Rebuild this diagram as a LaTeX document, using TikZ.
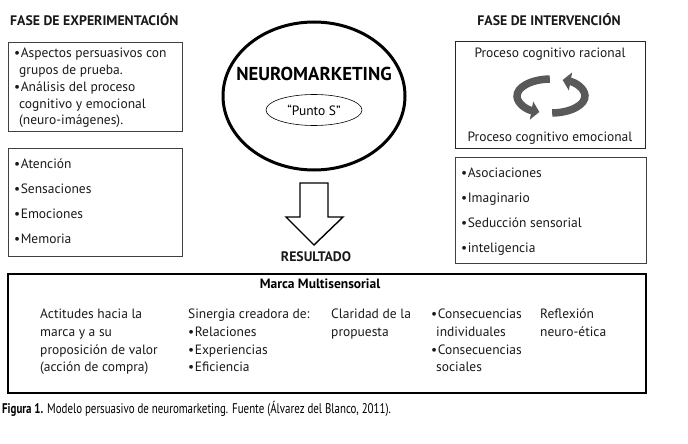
\documentclass[tikz,border=0pt]{standalone}
\usepackage{fontspec}
\setmainfont{PT Sans}
\usetikzlibrary{shapes.geometric,arrows.meta}
\tikzset{
  box/.style={draw=black!75, line width=0.9pt, anchor=north west, inner sep=0pt},
  hdr/.style={font=\fontsize{13.8}{15}\selectfont\bfseries, inner sep=0pt, text=black!90},
  txt/.style={font=\fontsize{13.5}{16.8}\selectfont, inner sep=0pt, align=left, anchor=north west, text=black!90},
  lst/.style={font=\fontsize{13.5}{25}\selectfont, inner sep=0pt, align=left, anchor=north west, text=black!90},
  col/.style={font=\fontsize{13.5}{17.7}\selectfont, inner sep=0pt, align=left, anchor=north west, text=black!90},
  rot/.style={line width=7.5pt, draw=gray!70!black, -{Triangle[length=8pt,width=18pt]}},
}
\newcommand{\bul}{\textbullet\hspace{0.5pt}}
\begin{document}
\begin{tikzpicture}[x=1pt,y=-1pt]
\useasboundingbox (0,0) rectangle (688,444);
% headers
\node[hdr, anchor=west] (hleft) at (10,20) {FASE DE EXPERIMENTACIÓN};
\node[hdr] (hright) at (549,20) {FASE DE INTERVENCIÓN};
% left boxes
\node[box, minimum width=174pt, minimum height=89pt] (b1) at (8,42) {};
\node[txt] (t1) at (14,48) {\bul Aspectos persuasivos con\\\hspace{5pt}grupos de prueba.\\\bul Análisis del proceso\\\hspace{5pt}cognitivo y emocional\\\hspace{5pt}(neuro-imágenes).};
\node[box, minimum width=174pt, minimum height=108pt] (b2) at (8,148) {};
\node[lst] (t2) at (14,159) {\bul Atención\\\bul Sensaciones\\\bul Emociones\\\bul Memoria};
% centre
\node[draw, ellipse, line width=3pt, minimum width=182pt, minimum height=148pt] (neuro) at (314,96) {};
\node[font=\fontsize{18.7}{20}\selectfont\bfseries, inner sep=0pt] (nm) at (314,74) {NEUROMARKETING};
\node[draw, ellipse, line width=0.6pt, minimum width=96pt, minimum height=31pt, inner sep=0pt, font=\fontsize{13.5}{14}\selectfont] (ps) at (314,110) {“Punto S”};
\draw[line width=1.4pt, line join=miter] (300,183) -- (328,183) -- (328,217) -- (343,217) -- (314,245) -- (286,217) -- (300,217) -- cycle;
\node[hdr] (res) at (316,257) {RESULTADO};
% right boxes
\node[box, draw=black!85, minimum width=190pt, minimum height=107pt] (b3) at (455,41) {};
\node[font=\fontsize{13.5}{14}\selectfont, inner sep=0pt, text=black!90] (rac) at (550,54) {Proceso cognitivo racional};
\node[font=\fontsize{13.5}{14}\selectfont, inner sep=0pt, text=black!90] (emo) at (550,138) {Proceso cognitivo emocional};
\coordinate (rc) at (551,96);
\draw[rot] ([shift={(92:34pt and 17pt)}]rc) arc[start angle=92, end angle=250, x radius=34pt, y radius=17pt];
\draw[rot] ([shift={(-88:34pt and 17pt)}]rc) arc[start angle=-88, end angle=70, x radius=34pt, y radius=17pt];
\node[box, minimum width=191pt, minimum height=106pt] (b4) at (455,157) {};
\node[lst] (t4) at (461,168) {\bul Asociaciones\\\bul Imaginario\\\bul Seducción sensorial\\\bul inteligencia};
% bottom box
\node[box, draw=black, line width=1.8pt, minimum width=638pt, minimum height=119pt] (b5) at (7,273) {};
\node[font=\fontsize{13.5}{14}\selectfont\bfseries, inner sep=0pt] (mm) at (320,284) {Marca Multisensorial};
\node[col] (c1) at (40,309) {Actitudes hacia la\\marca y a su\\proposición de valor\\(acción de compra)};
\node[col] (c2) at (188,309) {Sinergia creadora de:\\\bul Relaciones\\\bul Experiencias\\\bul Eficiencia};
\node[col] (c3) at (331,309) {Claridad de la\\propuesta};
\node[col] (c4) at (431,309) {\bul Consecuencias\\\hspace{5pt}individuales\\\bul Consecuencias\\\hspace{5pt}sociales};
\node[col] (c5) at (540,309) {Reflexión\\neuro-ética};
% caption
\node[anchor=west, inner sep=0pt, font=\fontsize{14}{15}\selectfont] (cap) at (2,409) {\scalebox{0.78}[1]{\textbf{Figura 1.} Modelo persuasivo de neuromarketing. Fuente (Álvarez del Blanco, 2011).}};
\end{tikzpicture}
\end{document}
